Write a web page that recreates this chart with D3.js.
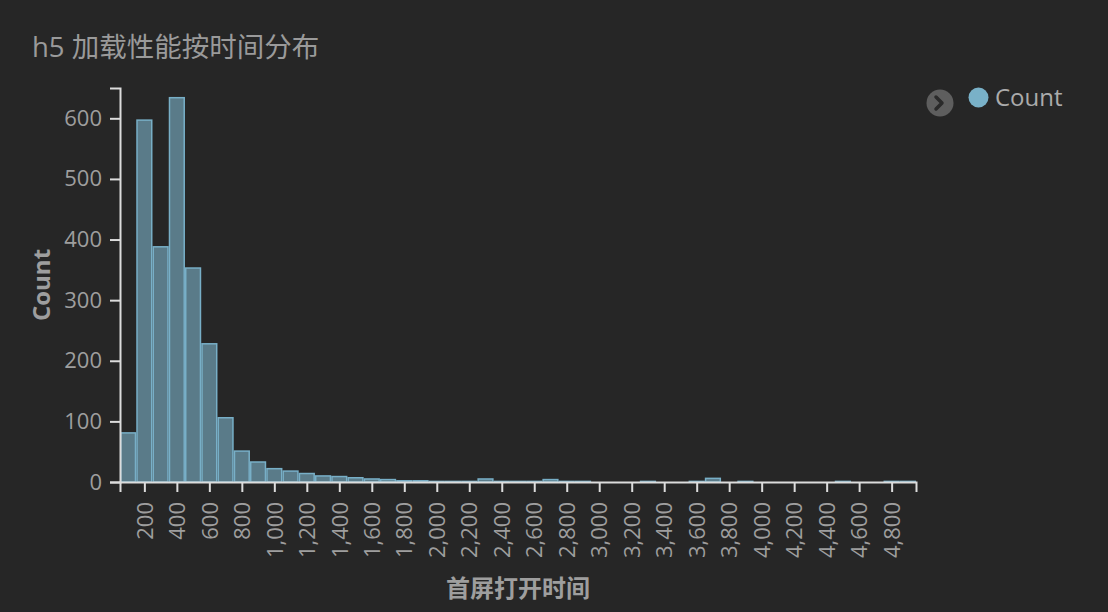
<!DOCTYPE html>
<html>
<head>
<meta charset="utf-8">
<script src="https://cdn.jsdelivr.net/npm/d3@7"></script>
<style>
  html, body { margin: 0; padding: 0; background: #262626; }
  svg { display: block; }
  text { font-family: "Open Sans", "Noto Sans CJK SC", sans-serif; }
</style>
</head>
<body>
<svg id="chart" width="1108" height="612"></svg>
<script>
// ---- data ----
const binStarts = [50,150,250,350,450,550,650,750,850,950,1050,1150,1250,1350,1450,1550,1650,1750,1850,1950,2050,2150,2250,2350,2450,2550,2650,2750,2850,2950,3050,3150,3250,3350,3450,3550,3650,3750,3850,3950,4050,4150,4250,4350,4450,4550,4650,4750,4850];
const counts    = [81,597,388,634,353,228,106,51,33,22,18,14,10,9,7,5,4,2,2,1,1,1,5,1,1,1,4,1,1,0,0,0,1,0,0,1,6,0,1,0,0,0,0,0,1,0,0,1,1];
const binStep = 100;
const xTicks = [200,400,600,800,1000,1200,1400,1600,1800,2000,2200,2400,2600,2800,3000,3200,3400,3600,3800,4000,4200,4400,4600,4800];
const yTicks = [0,100,200,300,400,500,600];
const titleText = "h5 加载性能按时间分布";
const xTitle = "首屏打开时间";
const yTitle = "Count";
const legendLabel = "Count";

// ---- layout ----
const svg = d3.select("#chart");
const plot = {left: 120, right: 916, top: 88, bottom: 482};

const x = d3.scaleLinear().domain([50, 4950]).range([plot.left, plot.right]);
const y = d3.scaleLinear().domain([0, 650]).range([plot.bottom, plot.top]);

const data = binStarts.map((s, i) => ({x0: s, x1: s + binStep, v: counts[i]}));

svg.append("text")
  .attr("x", 32).attr("y", 57)
  .attr("fill", "#9a9a9a").attr("font-size", 27.5)
  .text(titleText);

// bars
svg.append("g").selectAll("rect")
  .data(data.filter(d => d.v > 0))
  .join("rect")
  .attr("x", d => x(d.x0) + 0.75)
  .attr("width", d => x(d.x1) - x(d.x0) - 1.5)
  .attr("y", d => y(d.v))
  .attr("height", d => y(0) - y(d.v))
  .attr("fill", "#5a7b89")
  .attr("stroke", "#78afc7")
  .attr("stroke-width", 1.5);

// axes
const axisColor = "#dcdcdc";
const labelColor = "#9e9e9e";

const gx = svg.append("g").attr("transform", `translate(0,${plot.bottom})`)
  .call(d3.axisBottom(x).tickValues(xTicks).tickFormat(d3.format(",")).tickSize(10).tickSizeOuter(10).tickPadding(8));
gx.selectAll("text")
  .attr("transform", "rotate(-90)")
  .attr("x", -20).attr("y", 0).attr("dy", "0.35em")
  .attr("text-anchor", "end");

const gy = svg.append("g").attr("transform", `translate(${plot.left},0)`)
  .call(d3.axisLeft(y).tickValues(yTicks).tickSize(10).tickSizeOuter(10).tickPadding(8));

[gx, gy].forEach(g => {
  g.select(".domain").attr("stroke", axisColor).attr("stroke-width", 2);
  g.selectAll(".tick line").attr("stroke", axisColor).attr("stroke-width", 2);
  g.selectAll(".tick text").attr("fill", labelColor).attr("font-size", 22)
    .attr("font-family", "'Open Sans', sans-serif");
});

// axis titles
svg.append("text")
  .attr("x", (plot.left + plot.right) / 2).attr("y", 597)
  .attr("text-anchor", "middle")
  .attr("fill", labelColor).attr("font-size", 24).attr("font-weight", "bold")
  .text(xTitle);

svg.append("text")
  .attr("transform", `translate(50,${(plot.top + plot.bottom) / 2}) rotate(-90)`)
  .attr("text-anchor", "middle")
  .attr("fill", labelColor).attr("font-size", 24).attr("font-weight", "bold")
  .text(yTitle);

// legend
const lg = svg.append("g");
lg.append("circle").attr("cx", 940).attr("cy", 103).attr("r", 13.5).attr("fill", "#5e5e5e");
lg.append("path").attr("d", "M936,97 L942,103 L936,109")
  .attr("fill", "none").attr("stroke", "#2a2a2a").attr("stroke-width", 3.5)
  .attr("stroke-linecap", "round").attr("stroke-linejoin", "round");
lg.append("circle").attr("cx", 978.5).attr("cy", 97.5).attr("r", 10).attr("fill", "#79b1c8");
lg.append("text").attr("x", 995).attr("y", 106)
  .attr("fill", "#ababab").attr("font-size", 24)
  .text(legendLabel);
</script>
</body>
</html>
